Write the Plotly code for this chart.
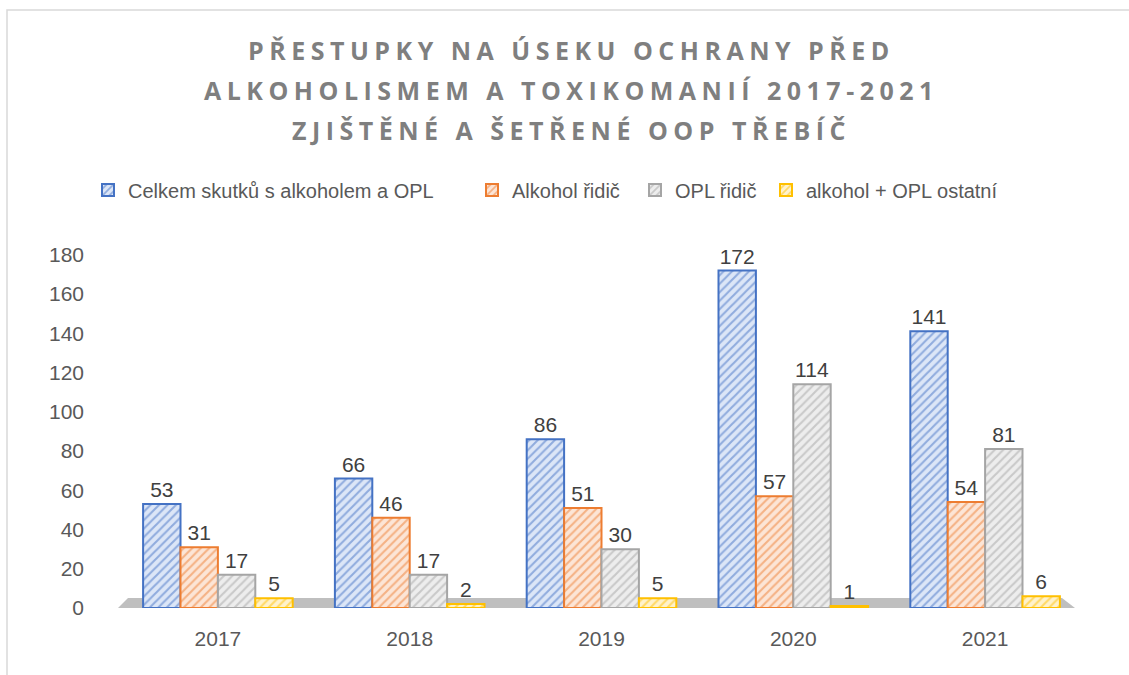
import plotly.graph_objects as go

years = ["2017", "2018", "2019", "2020", "2021"]
series_names = ["Celkem skutků s alkoholem a OPL", "Alkohol řidič", "OPL řidič", "alkohol + OPL ostatní"]
celkem = [53, 66, 86, 172, 141]
alkohol_ridic = [31, 46, 51, 57, 54]
opl_ridic = [17, 17, 30, 114, 81]
ostatni = [5, 2, 5, 1, 6]
values = [celkem, alkohol_ridic, opl_ridic, ostatni]

title_lines = ["PŘESTUPKY NA ÚSEKU OCHRANY PŘED",
               "ALKOHOLISMEM A TOXIKOMANIÍ 2017-2021",
               "ZJIŠTĚNÉ A ŠETŘENÉ OOP TŘEBÍČ"]

line_colors = ["#4472C4", "#ED7D31", "#A5A5A5", "#FFC000"]
fill_colors = ["#DCE6F7", "#FCE5D6", "#EDEDED", "#FFF2CC"]
legend_text_x = [128, 512, 675, 806]   # px where each legend label starts

FONT = "Liberation Sans"
W, H = 1129, 675
L, R, T, B = 122, 48, 245, 67
PW, PH = W - L - R, H - T - B

fig = go.Figure()
for i, (name, vals, lc, fc) in enumerate(zip(series_names, values, line_colors, fill_colors)):
    fig.add_trace(go.Bar(
        x=years, y=vals, name=name,
        legend="legend" if i == 0 else f"legend{i+1}",
        text=[str(v) for v in vals], textposition="outside",
        textfont=dict(family=FONT, size=21, color="#404040"),
        cliponaxis=False,
        marker=dict(color=fc, line=dict(color=lc, width=2),
                    pattern=dict(shape="/", fgcolor=lc, bgcolor=fc, size=6, solidity=0.35)),
    ))

legend_common = dict(orientation="h", xref="container", yref="container",
                     xanchor="left", yanchor="middle", y=1 - 190 / H,
                     font=dict(family=FONT, size=20, color="#595959"),
                     itemwidth=30, bgcolor="rgba(0,0,0,0)", borderwidth=0)
legends = {}
for i, tx in enumerate(legend_text_x):
    key = "legend" if i == 0 else f"legend{i+1}"
    legends[key] = dict(legend_common, x=(tx - 40) / W)

fig.update_layout(
    width=W, height=H,
    paper_bgcolor="white", plot_bgcolor="white",
    barmode="group", bargap=0.22, bargroupgap=0,
    margin=dict(l=L, r=R, t=T, b=B, autoexpand=False),
    font=dict(family=FONT, color="#595959"),
    showlegend=True,
    **legends,
)

for line, ypx in zip(title_lines, [50, 90, 130]):
    fig.add_annotation(
        text="<b><span style='letter-spacing:5.5px'>" + line + "</span></b>",
        xref="paper", yref="paper", x=(571 - L) / PW, y=(H - B - ypx) / PH,
        xanchor="center", yanchor="middle", showarrow=False,
        font=dict(family="Open Sans", size=25, color="#7F7F7F"),
    )

fig.update_xaxes(showline=False, showgrid=False, ticks="", ticklabelstandoff=16,
                 tickfont=dict(family=FONT, size=21, color="#595959"))
fig.update_yaxes(range=[0, 185], tickvals=list(range(0, 181, 20)), showgrid=False,
                 zeroline=False, showline=False, ticks="", ticklabelstandoff=37,
                 tickfont=dict(family=FONT, size=21, color="#595959"))

def px_x(px):
    return (px - L) / PW

def px_y(py):
    return (H - B - py) / PH

# floor band (decoration)
fig.add_shape(type="path", xref="paper", yref="paper", layer="below",
              path=(f"M {px_x(118)},{px_y(608)} L {px_x(1075)},{px_y(608)} "
                    f"L {px_x(1062)},{px_y(598)} L {px_x(128)},{px_y(598)} Z"),
              fillcolor="#BFBFBF", line=dict(width=0))
# outer chart border
fig.add_shape(type="rect", xref="paper", yref="paper",
              x0=px_x(7), x1=px_x(1140), y0=px_y(690), y1=px_y(10),
              line=dict(color="#D9D9D9", width=1.5), fillcolor="rgba(0,0,0,0)")

fig.write_html("out.html", config={"displayModeBar": False},
               post_script="document.body.style.margin='0px';")
